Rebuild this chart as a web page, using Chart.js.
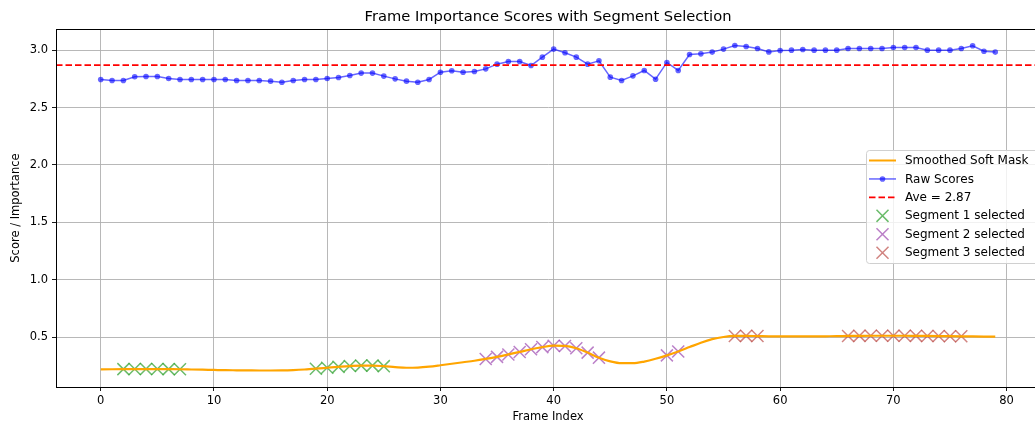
<!DOCTYPE html>
<html>
<head>
<meta charset="utf-8">
<script src="https://cdn.jsdelivr.net/npm/chart.js@4.4.1/dist/chart.umd.min.js"></script>
<style>
  html, body { margin: 0; padding: 0; background: #fff; overflow: hidden; }
  #wrap { width: 1035px; height: 426px; overflow: hidden; }
</style>
</head>
<body>
<div id="wrap"><canvas id="frameChart" width="1050" height="426"></canvas></div>
<script>
// ---- data ----
const frameIndex = Array.from({ length: 80 }, (_, i) => i);

const rawScores = [
    2.745, 2.736, 2.736, 2.768, 2.771, 2.771, 2.753, 2.745, 2.745, 2.745,
    2.745, 2.745, 2.736, 2.736, 2.736, 2.730, 2.721, 2.736, 2.745, 2.745,
    2.753, 2.762, 2.779, 2.800, 2.800, 2.774, 2.750, 2.730, 2.721, 2.745,
    2.808, 2.820, 2.808, 2.814, 2.837, 2.878, 2.901, 2.901, 2.866, 2.939,
    3.009, 2.977, 2.939, 2.878, 2.907, 2.765, 2.736, 2.776, 2.823, 2.747,
    2.893, 2.823, 2.962, 2.968, 2.983, 3.009, 3.041, 3.032, 3.015, 2.985,
    2.997, 3.000, 3.006, 3.000, 3.000, 3.000, 3.015, 3.015, 3.015, 3.015,
    3.023, 3.023, 3.023, 3.000, 3.000, 3.000, 3.015, 3.038, 2.991, 2.983
];

const smoothedMask = [
    0.220, 0.221, 0.222, 0.223, 0.223, 0.223, 0.222, 0.221, 0.219, 0.217,
    0.215, 0.213, 0.212, 0.211, 0.210, 0.210, 0.211, 0.214, 0.219, 0.226,
    0.234, 0.242, 0.249, 0.253, 0.253, 0.248, 0.240, 0.234, 0.236, 0.244,
    0.256, 0.269, 0.282, 0.295, 0.311, 0.329, 0.350, 0.372, 0.395, 0.414,
    0.426, 0.424, 0.404, 0.366, 0.322, 0.290, 0.274, 0.274, 0.288, 0.312,
    0.342, 0.376, 0.414, 0.452, 0.483, 0.502, 0.511, 0.512, 0.510, 0.508,
    0.507, 0.507, 0.507, 0.507, 0.508, 0.509, 0.511, 0.512, 0.513, 0.513,
    0.513, 0.513, 0.512, 0.511, 0.510, 0.509, 0.508, 0.507, 0.506, 0.505
];

const aveScore = 2.87;

const segment1Frames = [2, 3, 4, 5, 6, 7, 19, 20, 21, 22, 23, 24, 25];
const segment2Frames = [34, 35, 36, 37, 38, 39, 40, 41, 42, 43, 44, 50, 51];
const segment3Frames = [56, 57, 58, 66, 67, 68, 69, 70, 71, 72, 73, 74, 75, 76];

const xTickValues = [0, 10, 20, 30, 40, 50, 60, 70, 80];
const yTickValues = [0.5, 1.0, 1.5, 2.0, 2.5, 3.0];
const xRange = [-3.95, 82.95];
const yRange = [0.0665, 3.183];

// ---- styling ----
const FONT = '"DejaVu Sans", sans-serif';
const COLORS = {
    smooth: '#ffa500',
    raw: 'rgba(0, 0, 255, 0.6)',
    ave: '#ff0000',
    seg1: 'rgba(44, 160, 44, 0.7)',
    seg2: 'rgba(150, 60, 170, 0.65)',
    seg3: 'rgba(190, 80, 75, 0.7)'
};

function toPoints(xs, ys) {
    return xs.map((x, i) => ({ x: x, y: ys[i] }));
}

function segmentPoints(frames) {
    return frames.map(f => ({ x: f, y: smoothedMask[f] }));
}

function segmentDataset(label, frames, color, order) {
    return {
        label: label,
        data: segmentPoints(frames),
        showLine: false,
        pointStyle: 'crossRot',
        pointRadius: 8.5,
        pointBorderWidth: 1.5,
        pointBorderColor: color,
        pointBackgroundColor: color,
        borderColor: color,
        order: order
    };
}

// legend drawn inside plot (matplotlib style, 'right center')
const legendEntries = [
    { label: 'Smoothed Soft Mask', kind: 'line', color: COLORS.smooth, width: 2 },
    { label: 'Raw Scores', kind: 'linedot', color: COLORS.raw, width: 1.5 },
    { label: 'Ave = ' + aveScore.toFixed(2), kind: 'dash', color: COLORS.ave, width: 1.7 },
    { label: 'Segment 1 selected', kind: 'cross', color: COLORS.seg1 },
    { label: 'Segment 2 selected', kind: 'cross', color: COLORS.seg2 },
    { label: 'Segment 3 selected', kind: 'cross', color: COLORS.seg3 }
];

const framePlugin = {
    id: 'framePlugin',
    afterDraw(chart) {
        const ctx = chart.ctx;
        const a = chart.chartArea;
        ctx.save();
        ctx.strokeStyle = '#000';
        ctx.lineWidth = 1;
        ctx.strokeRect(Math.round(a.left) + 0.5, Math.round(a.top) + 0.5,
            Math.round(a.right - a.left), Math.round(a.bottom - a.top));

        // legend box
        const bx = 866.5, by = 150.5, bw = 200, bh = 113, r = 3;
        ctx.beginPath();
        ctx.moveTo(bx + r, by);
        ctx.lineTo(bx + bw - r, by);
        ctx.arcTo(bx + bw, by, bx + bw, by + r, r);
        ctx.lineTo(bx + bw, by + bh - r);
        ctx.arcTo(bx + bw, by + bh, bx + bw - r, by + bh, r);
        ctx.lineTo(bx + r, by + bh);
        ctx.arcTo(bx, by + bh, bx, by + bh - r, r);
        ctx.lineTo(bx, by + r);
        ctx.arcTo(bx, by, bx + r, by, r);
        ctx.closePath();
        ctx.fillStyle = 'rgba(255,255,255,0.8)';
        ctx.fill();
        ctx.strokeStyle = '#d0d0d0';
        ctx.stroke();

        const hx0 = 869, hx1 = 896, hxc = 882.5, tx = 905;
        ctx.font = '12px ' + FONT;
        ctx.textBaseline = 'middle';
        ctx.textAlign = 'left';
        legendEntries.forEach((e, i) => {
            const y = 160.5 + i * 18.45;
            ctx.setLineDash([]);
            if (e.kind === 'line' || e.kind === 'linedot' || e.kind === 'dash') {
                ctx.beginPath();
                ctx.strokeStyle = e.color;
                ctx.lineWidth = e.width;
                if (e.kind === 'dash') ctx.setLineDash([6.5, 3]);
                ctx.moveTo(hx0, y);
                ctx.lineTo(hx1, y);
                ctx.stroke();
                ctx.setLineDash([]);
                if (e.kind === 'linedot') {
                    ctx.beginPath();
                    ctx.fillStyle = e.color;
                    ctx.arc(hxc, y, 2.8, 0, Math.PI * 2);
                    ctx.fill();
                }
            } else {
                ctx.strokeStyle = e.color;
                ctx.lineWidth = 1.5;
                Chart.helpers.drawPoint(ctx, { pointStyle: 'crossRot', radius: 8.5, borderWidth: 1.5 }, hxc, y);
            }
            ctx.fillStyle = '#000';
            ctx.fillText(e.label, tx, y + 0.5);
        });
        ctx.restore();
    }
};

new Chart(document.getElementById('frameChart').getContext('2d'), {
    type: 'line',
    data: {
        datasets: [
            {
                label: 'Smoothed Soft Mask',
                data: toPoints(frameIndex, smoothedMask),
                borderColor: COLORS.smooth,
                borderWidth: 2.2,
                pointRadius: 0,
                cubicInterpolationMode: 'monotone',
                order: 0
            },
            {
                label: 'Raw Scores',
                data: toPoints(frameIndex, rawScores),
                borderColor: COLORS.raw,
                backgroundColor: COLORS.raw,
                borderWidth: 1.5,
                pointRadius: 2.8,
                pointBorderWidth: 0,
                pointBackgroundColor: COLORS.raw,
                tension: 0,
                order: 5
            },
            {
                label: 'Ave = ' + aveScore.toFixed(2),
                data: [{ x: xRange[0], y: aveScore }, { x: xRange[1], y: aveScore }],
                borderColor: COLORS.ave,
                borderWidth: 1.7,
                borderDash: [6.5, 3],
                pointRadius: 0,
                order: 4
            },
            segmentDataset('Segment 1 selected', segment1Frames, COLORS.seg1, 3),
            segmentDataset('Segment 2 selected', segment2Frames, COLORS.seg2, 2),
            segmentDataset('Segment 3 selected', segment3Frames, COLORS.seg3, 1)
        ]
    },
    options: {
        responsive: false,
        animation: false,
        events: [],
        layout: { padding: { left: 0, right: 7.5, top: 0, bottom: 0 } },
        scales: {
            x: {
                type: 'linear',
                min: xRange[0],
                max: xRange[1],
                afterBuildTicks: s => { s.ticks = xTickValues.map(v => ({ value: v })); },
                afterFit: s => { s.height = 39; },
                grid: { color: '#b0b0b0', lineWidth: 0.9, tickLength: 4, tickColor: '#000' },
                border: { color: '#000', width: 1 },
                ticks: { color: '#000', font: { family: FONT, size: 11.5 }, padding: 3, maxRotation: 0 },
                title: { display: true, text: 'Frame Index', color: '#000', font: { family: FONT, size: 11.5 }, padding: { top: 0, bottom: 2 } }
            },
            y: {
                min: yRange[0],
                max: yRange[1],
                afterBuildTicks: s => { s.ticks = yTickValues.map(v => ({ value: v })); },
                afterFit: s => { s.width = 56; },
                grid: { color: '#b0b0b0', lineWidth: 0.9, tickLength: 4, tickColor: '#000' },
                border: { color: '#000', width: 1 },
                ticks: { color: '#000', font: { family: FONT, size: 11.5 }, padding: 4, callback: v => v.toFixed(1) },
                title: { display: true, text: 'Score / Importance', color: '#000', font: { family: FONT, size: 11.5 }, padding: { top: 9, bottom: 0 } }
            }
        },
        plugins: {
            legend: { display: false },
            tooltip: { enabled: false },
            title: {
                display: true,
                fullSize: false,
                text: 'Frame Importance Scores with Segment Selection',
                color: '#000',
                font: { family: FONT, size: 14.7, weight: 'normal' },
                padding: { top: 8.5, bottom: 3 }
            }
        }
    },
    plugins: [framePlugin]
});
</script>
</body>
</html>
